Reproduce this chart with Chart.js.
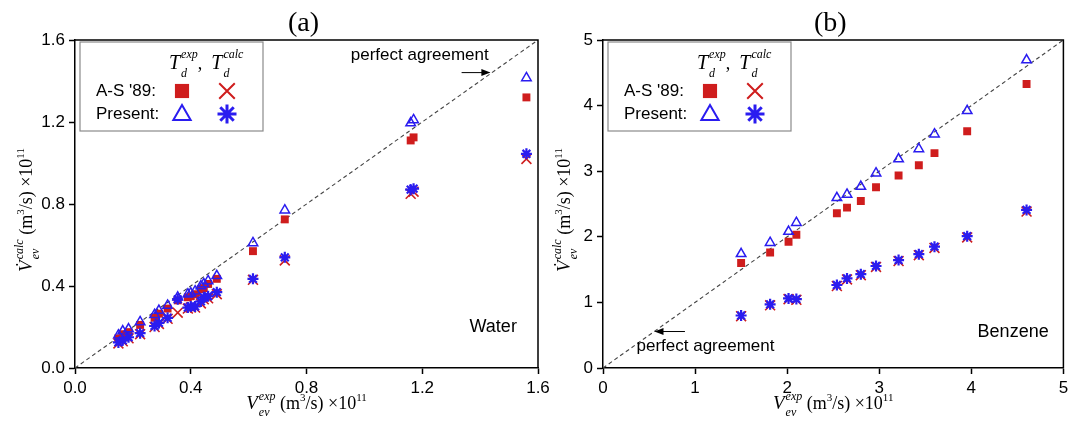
<!DOCTYPE html>
<html>
<head>
<meta charset="utf-8">
<script src="https://cdn.jsdelivr.net/npm/chart.js@4.4.1/dist/chart.umd.min.js"></script>
<style>
  body { margin: 0; background: #fff; }
  #wrap { position: relative; width: 1072px; height: 423px; overflow: hidden; background: #fff; }
  #chartA { position: absolute; left: 0; top: 0; }
  #chartB { position: absolute; left: 540px; top: 0; }
</style>
</head>
<body>
<div id="wrap">
  <canvas id="chartA" width="560" height="423"></canvas>
  <canvas id="chartB" width="532" height="423"></canvas>
</div>
<script>
// ---- panel (a): water ----
const waterX        = [0.15, 0.165, 0.185, 0.225, 0.275, 0.29, 0.32, 0.355, 0.39, 0.40, 0.415, 0.435, 0.445, 0.46, 0.49, 0.615, 0.725, 1.16, 1.17, 1.56];
const waterAsExp    = [0.145, 0.165, 0.175, 0.21, 0.245, 0.265, 0.29, 0.33, 0.345, 0.35, 0.36, 0.385, 0.39, 0.41, 0.435, 0.57, 0.725, 1.11, 1.125, 1.32];
const waterAsCalc   = [0.12, 0.13, 0.145, 0.165, 0.2, 0.215, 0.24, 0.27, 0.29, 0.295, 0.295, 0.315, 0.335, 0.34, 0.36, 0.43, 0.525, 0.85, 0.86, 1.02];
const waterPresExp  = [0.16, 0.18, 0.19, 0.225, 0.26, 0.28, 0.305, 0.345, 0.36, 0.365, 0.375, 0.40, 0.41, 0.425, 0.45, 0.61, 0.77, 1.195, 1.21, 1.415];
const waterPresCalc = [0.125, 0.135, 0.15, 0.17, 0.205, 0.22, 0.245, 0.335, 0.295, 0.30, 0.30, 0.325, 0.345, 0.35, 0.37, 0.435, 0.54, 0.87, 0.875, 1.045];
const waterTicks = [0, 0.4, 0.8, 1.2, 1.6];

// ---- panel (b): benzene ----
const benzX        = [1.50, 1.815, 2.015, 2.10, 2.54, 2.65, 2.80, 2.965, 3.21, 3.43, 3.60, 3.955, 4.60];
const benzAsExp    = [1.60, 1.76, 1.925, 2.03, 2.36, 2.445, 2.545, 2.755, 2.935, 3.09, 3.275, 3.61, 4.33];
const benzAsCalc   = [0.79, 0.955, 1.05, 1.04, 1.25, 1.35, 1.415, 1.54, 1.63, 1.72, 1.83, 1.99, 2.385];
const benzPresExp  = [1.74, 1.91, 2.08, 2.215, 2.595, 2.645, 2.765, 2.97, 3.185, 3.34, 3.565, 3.92, 4.695];
const benzPresCalc = [0.80, 0.97, 1.06, 1.05, 1.265, 1.365, 1.43, 1.555, 1.645, 1.735, 1.85, 2.01, 2.41];
const benzTicks = [0, 1, 2, 3, 4, 5];

const RED = "#cf1d1d";
const BLUE = "#2a1cf0";
const SANS = '"Liberation Sans", Arial, sans-serif';
const SERIF = '"Liberation Serif", "Times New Roman", serif';

const pts = (xs, ys) => xs.map((x, i) => ({ x: x, y: ys[i] }));

// draw one marker (used by the legend box)
function drawMarker(ctx, style, x, y, r, color, lw) {
  ctx.save();
  ctx.strokeStyle = color;
  ctx.fillStyle = color;
  ctx.lineWidth = lw;
  ctx.beginPath();
  const s = r * Math.SQRT1_2;
  if (style === "rect") {
    ctx.fillRect(x - s, y - s, 2 * s, 2 * s);
  } else if (style === "crossRot") {
    ctx.moveTo(x - s, y - s); ctx.lineTo(x + s, y + s);
    ctx.moveTo(x - s, y + s); ctx.lineTo(x + s, y - s);
    ctx.stroke();
  } else if (style === "triangle") {
    ctx.moveTo(x, y - r);
    ctx.lineTo(x + 0.866 * r, y + 0.5 * r);
    ctx.lineTo(x - 0.866 * r, y + 0.5 * r);
    ctx.closePath();
    ctx.stroke();
  } else if (style === "star") {
    ctx.moveTo(x - r, y); ctx.lineTo(x + r, y);
    ctx.moveTo(x, y - r); ctx.lineTo(x, y + r);
    ctx.moveTo(x - s, y - s); ctx.lineTo(x + s, y + s);
    ctx.moveTo(x - s, y + s); ctx.lineTo(x + s, y - s);
    ctx.stroke();
  }
  ctx.restore();
}

// text with superscripts / stacked sub+sup
function drawRich(ctx, parts, x, y, align) {
  let w = 0;
  parts.forEach((p) => {
    ctx.font = p.f;
    p.w = p.stack
      ? Math.max(ctx.measureText(p.sup).width, ctx.measureText(p.sub).width)
      : ctx.measureText(p.t).width;
    w += p.w + (p.gap || 0);
  });
  let cx = align === "center" ? x - w / 2 : align === "right" ? x - w : x;
  ctx.textAlign = "left";
  ctx.textBaseline = "alphabetic";
  parts.forEach((p) => {
    ctx.font = p.f;
    if (p.stack) {
      ctx.fillText(p.sup, cx, y + p.supDy);
      ctx.fillText(p.sub, cx, y + p.subDy);
    } else {
      ctx.fillText(p.t, cx, y + (p.dy || 0));
    }
    cx += p.w + (p.gap || 0);
  });
}

const volLabel = (v, sup) => [
  { t: v, f: "italic 19px " + SERIF, gap: 1 },
  { stack: true, sup: sup, sub: "ev", f: "italic 12px " + SERIF, supDy: -9, subDy: 7 },
  { t: " (m", f: "18px " + SERIF },
  { t: "3", f: "11px " + SERIF, dy: -8 },
  { t: "/s) \u00d710", f: "18px " + SERIF },
  { t: "11", f: "11px " + SERIF, dy: -8 },
];

const legendHeader = [
  { t: "T", f: "italic 20px " + SERIF, gap: 1 },
  { stack: true, sup: "exp", sub: "d", f: "italic 12px " + SERIF, supDy: -11, subDy: 8 },
  { t: ",  ", f: "18px " + SERIF },
  { t: "T", f: "italic 20px " + SERIF, gap: 1 },
  { stack: true, sup: "calc", sub: "d", f: "italic 12px " + SERIF, supDy: -11, subDy: 8 },
];

function arrow(ctx, x1, y1, x2, y2) {
  ctx.save();
  ctx.strokeStyle = "#000";
  ctx.fillStyle = "#000";
  ctx.lineWidth = 1;
  ctx.beginPath();
  ctx.moveTo(x1, y1);
  ctx.lineTo(x2, y2);
  ctx.stroke();
  const d = Math.sign(x2 - x1);
  ctx.beginPath();
  ctx.moveTo(x2 + d * 1, y2);
  ctx.lineTo(x2 - d * 8, y2 - 3.5);
  ctx.lineTo(x2 - d * 8, y2 + 3.5);
  ctx.closePath();
  ctx.fill();
  ctx.restore();
}

const panelDecor = {
  id: "panelDecor",
  afterDraw(chart, args, o) {
    const ctx = chart.ctx;
    const a = chart.chartArea;
    const sx = chart.scales.x;
    const sy = chart.scales.y;
    ctx.save();
    // top and right frame
    ctx.strokeStyle = "#000";
    ctx.lineWidth = 1.5;
    ctx.beginPath();
    ctx.moveTo(a.left, a.top);
    ctx.lineTo(a.right, a.top);
    ctx.lineTo(a.right, a.bottom);
    ctx.stroke();

    ctx.fillStyle = "#000";
    // panel title
    ctx.font = "28px " + SERIF;
    ctx.textAlign = "center";
    ctx.textBaseline = "alphabetic";
    ctx.fillText(o.title, (a.left + a.right) / 2 - 3, 31);

    // axis titles
    drawRich(ctx, volLabel("V", "exp"), (a.left + a.right) / 2, 409, "center");
    ctx.save();
    ctx.translate(o.yTitleX, 210);
    ctx.rotate(-Math.PI / 2);
    drawRich(ctx, volLabel("V\u0307", "calc"), 0, 0, "center");
    ctx.restore();

    // notes
    ctx.font = "17px " + SANS;
    ctx.textBaseline = "middle";
    ctx.textAlign = "left";
    ctx.fillText("perfect agreement", sx.getPixelForValue(o.agree[0]), sy.getPixelForValue(o.agree[1]));
    arrow(ctx, sx.getPixelForValue(o.arrow[0]), sy.getPixelForValue(o.arrow[2]),
      sx.getPixelForValue(o.arrow[1]), sy.getPixelForValue(o.arrow[2]));
    ctx.font = "18px " + SANS;
    ctx.textAlign = "right";
    ctx.fillText(o.fluid, sx.getPixelForValue(o.fluidAt[0]), sy.getPixelForValue(o.fluidAt[1]));

    // legend box
    const bx = a.left + 5, by = a.top + 2;
    ctx.fillStyle = "#fff";
    ctx.fillRect(bx, by, 183, 89);
    ctx.strokeStyle = "#8a8a8a";
    ctx.lineWidth = 1.2;
    ctx.strokeRect(bx, by, 183, 89);
    ctx.fillStyle = "#000";
    drawRich(ctx, legendHeader, bx + 89, by + 27, "left");
    ctx.font = "17px " + SANS;
    ctx.textAlign = "left";
    ctx.textBaseline = "middle";
    ctx.fillText("A-S '89:", bx + 16, by + 49);
    ctx.fillText("Present:", bx + 16, by + 72);
    drawMarker(ctx, "rect", bx + 102, by + 49, 10, RED, 0);
    drawMarker(ctx, "crossRot", bx + 147, by + 49, 11, RED, 2);
    drawMarker(ctx, "triangle", bx + 102, by + 73, 10, BLUE, 2);
    drawMarker(ctx, "star", bx + 147, by + 72, 9.5, BLUE, 3);
    ctx.restore();
  },
};

function makePanel(id, cfg) {
  const ctx = document.getElementById(id).getContext("2d");
  const axisBase = {
    type: "linear",
    min: cfg.ticks[0],
    max: cfg.ticks[cfg.ticks.length - 1],
    grid: { drawOnChartArea: false, drawTicks: true, tickLength: 6, color: "#000", tickWidth: 1.5 },
    border: { display: true, color: "#000", width: 1.5 },
  };
  new Chart(ctx, {
    type: "scatter",
    data: {
      datasets: [
        {
          label: "Present Td calc", data: pts(cfg.x, cfg.presCalc), order: 1,
          pointStyle: "star", pointRadius: 5.5, borderColor: BLUE, backgroundColor: BLUE, pointBorderWidth: 2.2,
        },
        {
          label: "A-S '89 Td calc", data: pts(cfg.x, cfg.asCalc), order: 2,
          pointStyle: "crossRot", pointRadius: 7, borderColor: RED, backgroundColor: RED, pointBorderWidth: 1.6,
        },
        {
          label: "Present Td exp", data: pts(cfg.x, cfg.presExp), order: 3,
          pointStyle: "triangle", pointRadius: 5.5, borderColor: BLUE, backgroundColor: "rgba(0,0,0,0)", pointBorderWidth: 1.5,
        },
        {
          label: "A-S '89 Td exp", data: pts(cfg.x, cfg.asExp), order: 4,
          pointStyle: "rect", pointRadius: 5.6, borderColor: RED, backgroundColor: RED, pointBorderWidth: 0,
        },
        {
          label: "perfect agreement", type: "line", order: 5,
          data: pts(cfg.diag, cfg.diag), showLine: true, pointRadius: 0,
          borderColor: "#444", borderWidth: 1.1, borderDash: [4, 3],
        },
      ],
    },
    options: {
      responsive: false,
      animation: false,
      devicePixelRatio: 1,
      events: [],
      layout: { padding: { left: 0, top: 40, right: cfg.padRight, bottom: 0 } },
      plugins: {
        legend: { display: false },
        tooltip: { enabled: false },
        panelDecor: cfg.decor,
      },
      scales: {
        x: Object.assign({}, axisBase, {
          afterBuildTicks: (s) => { s.ticks = cfg.ticks.map((v) => ({ value: v })); },
          ticks: { callback: cfg.fmt, font: { family: SANS, size: 17 }, color: "#000", padding: 4, maxRotation: 0, autoSkip: false },
          afterFit: (s) => { s.height = 55; s.paddingLeft = 0; s.paddingRight = 0; },
        }),
        y: Object.assign({}, axisBase, {
          afterBuildTicks: (s) => { s.ticks = cfg.ticks.map((v) => ({ value: v })); },
          ticks: { callback: cfg.fmt, font: { family: SANS, size: 17 }, color: "#000", padding: 4, autoSkip: false },
          afterFit: (s) => { s.width = cfg.yWidth; s.paddingTop = 0; s.paddingBottom = 0; },
        }),
      },
    },
    plugins: [panelDecor],
  });
}

makePanel("chartA", {
  x: waterX, asExp: waterAsExp, asCalc: waterAsCalc, presExp: waterPresExp, presCalc: waterPresCalc,
  ticks: waterTicks, diag: [0, 1.6],
  fmt: (v) => Number(v).toFixed(1),
  yWidth: 75, padRight: 22,
  decor: {
    title: "(a)", yTitleX: 32,
    agree: [0.953, 1.527], arrow: [1.336, 1.432, 1.441],
    fluid: "Water", fluidAt: [1.527, 0.20],
  },
});

makePanel("chartB", {
  x: benzX, asExp: benzAsExp, asCalc: benzAsCalc, presExp: benzPresExp, presCalc: benzPresCalc,
  ticks: benzTicks, diag: [0, 5],
  fmt: (v) => String(v),
  yWidth: 63, padRight: 7,
  decor: {
    title: "(b)", yTitleX: 30,
    agree: [0.364, 0.33], arrow: [0.89, 0.57, 0.556],
    fluid: "Benzene", fluidAt: [4.84, 0.55],
  },
});
</script>
</body>
</html>
